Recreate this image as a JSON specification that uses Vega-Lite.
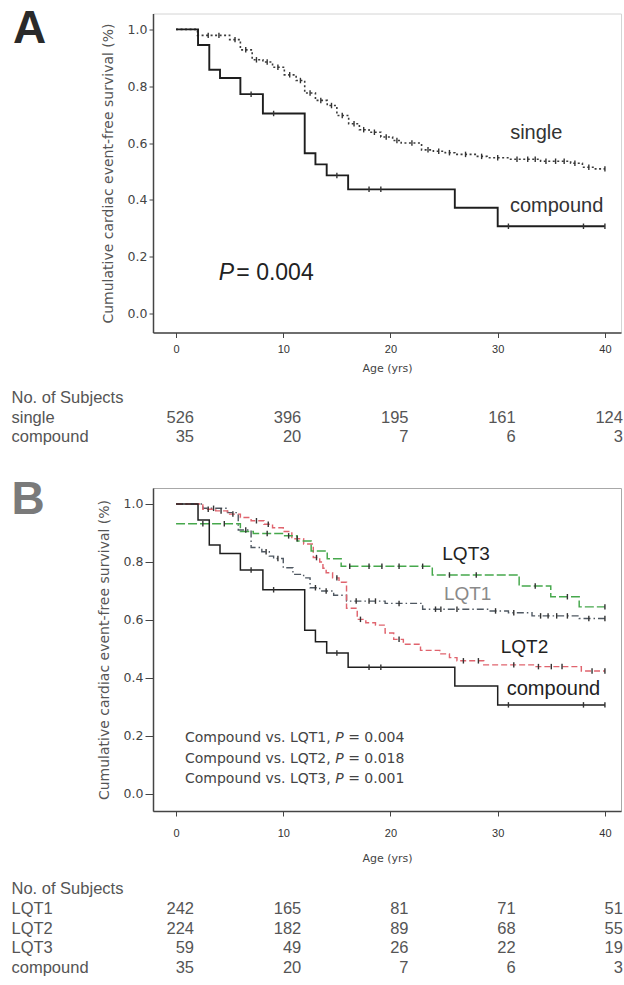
{
  "$schema": "https://vega.github.io/schema/vega-lite/v6.json",
  "padding": {"left": 10, "top": 5.5, "right": 0, "bottom": 0},
  "autosize": {"type": "pad"},
  "bounds": "flush",
  "spacing": 28.75,
  "background": "white",
  "resolve": {"scale": {"color": "independent", "strokeDash": "independent", "strokeWidth": "independent"}},
  "config": {"view": {"stroke": null}, "axis": {"grid": false}, "font": "Liberation Sans"},
  "datasets": {
    "kmA": [
      {"group":"single","age":0,"surv":1.0},{"group":"single","age":2.0,"surv":0.979},{"group":"single","age":5.0,"surv":0.964},{"group":"single","age":6.0,"surv":0.928},{"group":"single","age":7.1,"surv":0.893},{"group":"single","age":8.1,"surv":0.885},{"group":"single","age":9.0,"surv":0.867},{"group":"single","age":10.1,"surv":0.84},{"group":"single","age":11.2,"surv":0.82},{"group":"single","age":12.0,"surv":0.776},{"group":"single","age":13.0,"surv":0.75},{"group":"single","age":14.1,"surv":0.732},{"group":"single","age":15.0,"surv":0.697},{"group":"single","age":16.1,"surv":0.668},{"group":"single","age":17.1,"surv":0.647},{"group":"single","age":18.0,"surv":0.638},{"group":"single","age":19.1,"surv":0.621},{"group":"single","age":20.2,"surv":0.609},{"group":"single","age":21.0,"surv":0.6},{"group":"single","age":22.9,"surv":0.576},{"group":"single","age":24.0,"surv":0.571},{"group":"single","age":25.1,"surv":0.566},{"group":"single","age":26.0,"surv":0.56},{"group":"single","age":28.0,"surv":0.553},{"group":"single","age":29.0,"surv":0.548},{"group":"single","age":31.2,"surv":0.543},{"group":"single","age":34.0,"surv":0.536},{"group":"single","age":36.8,"surv":0.529},{"group":"single","age":37.9,"surv":0.515},{"group":"single","age":39.0,"surv":0.509},{"group":"single","age":40.0,"surv":0.509},
      {"group":"compound","age":0,"surv":1.0},{"group":"compound","age":2.05,"surv":0.945},{"group":"compound","age":3.1,"surv":0.858},{"group":"compound","age":4.1,"surv":0.829},{"group":"compound","age":6.0,"surv":0.772},{"group":"compound","age":8.1,"surv":0.704},{"group":"compound","age":12.0,"surv":0.564},{"group":"compound","age":13.0,"surv":0.525},{"group":"compound","age":14.05,"surv":0.486},{"group":"compound","age":16.05,"surv":0.437},{"group":"compound","age":26.0,"surv":0.372},{"group":"compound","age":30.0,"surv":0.307},{"group":"compound","age":40.0,"surv":0.307}
    ],
    "censA": [
      {"group":"single","age":3.0,"surv":0.979},{"group":"single","age":4.0,"surv":0.979},{"group":"single","age":5.5,"surv":0.964},{"group":"single","age":6.5,"surv":0.928},{"group":"single","age":7.5,"surv":0.893},{"group":"single","age":8.5,"surv":0.885},{"group":"single","age":9.5,"surv":0.867},{"group":"single","age":10.6,"surv":0.84},{"group":"single","age":11.6,"surv":0.82},{"group":"single","age":12.5,"surv":0.776},{"group":"single","age":13.5,"surv":0.75},{"group":"single","age":14.5,"surv":0.732},{"group":"single","age":15.5,"surv":0.697},{"group":"single","age":16.6,"surv":0.668},{"group":"single","age":17.5,"surv":0.647},{"group":"single","age":18.5,"surv":0.638},{"group":"single","age":19.6,"surv":0.621},{"group":"single","age":20.6,"surv":0.609},{"group":"single","age":22.0,"surv":0.6},{"group":"single","age":23.5,"surv":0.576},{"group":"single","age":24.5,"surv":0.571},{"group":"single","age":25.5,"surv":0.566},{"group":"single","age":27.0,"surv":0.56},{"group":"single","age":28.5,"surv":0.553},{"group":"single","age":30.0,"surv":0.548},{"group":"single","age":31.8,"surv":0.543},{"group":"single","age":32.8,"surv":0.543},{"group":"single","age":33.5,"surv":0.543},{"group":"single","age":34.5,"surv":0.536},{"group":"single","age":35.4,"surv":0.536},{"group":"single","age":36.2,"surv":0.536},{"group":"single","age":37.2,"surv":0.529},{"group":"single","age":38.5,"surv":0.515},{"group":"single","age":40.0,"surv":0.509},
      {"group":"compound","age":7.0,"surv":0.772},{"group":"compound","age":9.1,"surv":0.704},{"group":"compound","age":15.0,"surv":0.486},{"group":"compound","age":18.0,"surv":0.437},{"group":"compound","age":19.1,"surv":0.437},{"group":"compound","age":31.0,"surv":0.307},{"group":"compound","age":38.0,"surv":0.307},{"group":"compound","age":40.0,"surv":0.307}
    ],
    "kmB": [
      {"group":"LQT1","age":0,"surv":1.0},{"group":"LQT1","age":2.5,"surv":0.985},{"group":"LQT1","age":4.8,"surv":0.97},{"group":"LQT1","age":5.8,"surv":0.91},{"group":"LQT1","age":7.0,"surv":0.85},{"group":"LQT1","age":8.0,"surv":0.835},{"group":"LQT1","age":8.7,"surv":0.82},{"group":"LQT1","age":9.1,"surv":0.812},{"group":"LQT1","age":10.0,"surv":0.78},{"group":"LQT1","age":10.9,"surv":0.757},{"group":"LQT1","age":11.9,"surv":0.745},{"group":"LQT1","age":12.5,"surv":0.711},{"group":"LQT1","age":13.4,"surv":0.7},{"group":"LQT1","age":14.7,"surv":0.685},{"group":"LQT1","age":15.9,"surv":0.665},{"group":"LQT1","age":19.5,"surv":0.657},{"group":"LQT1","age":23.0,"surv":0.637},{"group":"LQT1","age":29.3,"surv":0.631},{"group":"LQT1","age":31.0,"surv":0.625},{"group":"LQT1","age":33.2,"surv":0.614},{"group":"LQT1","age":37.6,"surv":0.605},{"group":"LQT1","age":40.0,"surv":0.605},
      {"group":"LQT2","age":0,"surv":1.0},{"group":"LQT2","age":2.5,"surv":0.982},{"group":"LQT2","age":3.7,"surv":0.976},{"group":"LQT2","age":4.8,"surv":0.965},{"group":"LQT2","age":6.0,"surv":0.953},{"group":"LQT2","age":7.0,"surv":0.942},{"group":"LQT2","age":8.2,"surv":0.93},{"group":"LQT2","age":9.0,"surv":0.918},{"group":"LQT2","age":10.0,"surv":0.905},{"group":"LQT2","age":10.8,"surv":0.88},{"group":"LQT2","age":11.9,"surv":0.862},{"group":"LQT2","age":12.8,"surv":0.815},{"group":"LQT2","age":13.4,"surv":0.8},{"group":"LQT2","age":13.7,"surv":0.778},{"group":"LQT2","age":14.0,"surv":0.763},{"group":"LQT2","age":14.6,"surv":0.745},{"group":"LQT2","age":15.2,"surv":0.73},{"group":"LQT2","age":15.9,"surv":0.64},{"group":"LQT2","age":16.9,"surv":0.602},{"group":"LQT2","age":17.7,"surv":0.59},{"group":"LQT2","age":18.6,"surv":0.582},{"group":"LQT2","age":19.5,"surv":0.555},{"group":"LQT2","age":20.3,"surv":0.533},{"group":"LQT2","age":21.2,"surv":0.516},{"group":"LQT2","age":22.8,"surv":0.495},{"group":"LQT2","age":24.6,"surv":0.483},{"group":"LQT2","age":25.5,"surv":0.47},{"group":"LQT2","age":26.2,"surv":0.459},{"group":"LQT2","age":28.7,"surv":0.445},{"group":"LQT2","age":33.4,"surv":0.439},{"group":"LQT2","age":37.8,"surv":0.424},{"group":"LQT2","age":40.0,"surv":0.424},
      {"group":"LQT3","age":0,"surv":0.932},{"group":"LQT3","age":6.0,"surv":0.905},{"group":"LQT3","age":7.2,"surv":0.898},{"group":"LQT3","age":10.0,"surv":0.89},{"group":"LQT3","age":11.3,"surv":0.872},{"group":"LQT3","age":12.6,"surv":0.838},{"group":"LQT3","age":14.1,"surv":0.811},{"group":"LQT3","age":15.4,"surv":0.785},{"group":"LQT3","age":23.9,"surv":0.755},{"group":"LQT3","age":32.0,"surv":0.717},{"group":"LQT3","age":34.95,"surv":0.68},{"group":"LQT3","age":37.6,"surv":0.645},{"group":"LQT3","age":40.0,"surv":0.645},
      {"group":"compound","age":0,"surv":1.0},{"group":"compound","age":2.05,"surv":0.945},{"group":"compound","age":3.1,"surv":0.858},{"group":"compound","age":4.1,"surv":0.829},{"group":"compound","age":6.0,"surv":0.772},{"group":"compound","age":8.1,"surv":0.704},{"group":"compound","age":12.0,"surv":0.564},{"group":"compound","age":13.0,"surv":0.525},{"group":"compound","age":14.05,"surv":0.486},{"group":"compound","age":16.05,"surv":0.437},{"group":"compound","age":26.0,"surv":0.372},{"group":"compound","age":30.0,"surv":0.307},{"group":"compound","age":40.0,"surv":0.307}
    ],
    "censB": [
      {"group":"LQT3","age":2.5,"surv":0.932},{"group":"LQT3","age":4.5,"surv":0.932},{"group":"LQT3","age":8.5,"surv":0.898},{"group":"LQT3","age":10.5,"surv":0.89},{"group":"LQT3","age":16.2,"surv":0.785},{"group":"LQT3","age":18.0,"surv":0.785},{"group":"LQT3","age":19.2,"surv":0.785},{"group":"LQT3","age":20.8,"surv":0.785},{"group":"LQT3","age":23.0,"surv":0.785},{"group":"LQT3","age":25.5,"surv":0.755},{"group":"LQT3","age":28.0,"surv":0.755},{"group":"LQT3","age":33.5,"surv":0.717},{"group":"LQT3","age":36.5,"surv":0.68},{"group":"LQT3","age":40.0,"surv":0.645},
      {"group":"LQT1","age":3.5,"surv":0.985},{"group":"LQT1","age":6.5,"surv":0.91},{"group":"LQT1","age":8.4,"surv":0.835},{"group":"LQT1","age":9.5,"surv":0.812},{"group":"LQT1","age":13.0,"surv":0.711},{"group":"LQT1","age":14.0,"surv":0.7},{"group":"LQT1","age":16.8,"surv":0.665},{"group":"LQT1","age":18.0,"surv":0.665},{"group":"LQT1","age":18.6,"surv":0.665},{"group":"LQT1","age":20.8,"surv":0.657},{"group":"LQT1","age":24.2,"surv":0.637},{"group":"LQT1","age":24.7,"surv":0.637},{"group":"LQT1","age":26.2,"surv":0.637},{"group":"LQT1","age":29.8,"surv":0.631},{"group":"LQT1","age":31.5,"surv":0.625},{"group":"LQT1","age":34.0,"surv":0.614},{"group":"LQT1","age":34.7,"surv":0.614},{"group":"LQT1","age":35.5,"surv":0.614},{"group":"LQT1","age":36.5,"surv":0.614},{"group":"LQT1","age":38.5,"surv":0.605},{"group":"LQT1","age":40.0,"surv":0.605},
      {"group":"LQT2","age":3.0,"surv":0.982},{"group":"LQT2","age":4.2,"surv":0.976},{"group":"LQT2","age":5.3,"surv":0.965},{"group":"LQT2","age":7.5,"surv":0.942},{"group":"LQT2","age":8.6,"surv":0.93},{"group":"LQT2","age":11.3,"surv":0.88},{"group":"LQT2","age":13.1,"surv":0.815},{"group":"LQT2","age":15.0,"surv":0.745},{"group":"LQT2","age":17.2,"surv":0.602},{"group":"LQT2","age":20.8,"surv":0.533},{"group":"LQT2","age":26.8,"surv":0.459},{"group":"LQT2","age":28.2,"surv":0.459},{"group":"LQT2","age":31.5,"surv":0.445},{"group":"LQT2","age":33.8,"surv":0.439},{"group":"LQT2","age":35.0,"surv":0.439},{"group":"LQT2","age":36.0,"surv":0.439},{"group":"LQT2","age":38.8,"surv":0.424},{"group":"LQT2","age":40.0,"surv":0.424},
      {"group":"compound","age":7.0,"surv":0.772},{"group":"compound","age":9.1,"surv":0.704},{"group":"compound","age":15.0,"surv":0.486},{"group":"compound","age":18.0,"surv":0.437},{"group":"compound","age":19.1,"surv":0.437},{"group":"compound","age":31.0,"surv":0.307},{"group":"compound","age":38.0,"surv":0.307},{"group":"compound","age":40.0,"surv":0.307}
    ],
    "riskA": [
      {"group":"single","age":0,"n":526},{"group":"single","age":10,"n":396},{"group":"single","age":20,"n":195},{"group":"single","age":30,"n":161},{"group":"single","age":40,"n":124},
      {"group":"compound","age":0,"n":35},{"group":"compound","age":10,"n":20},{"group":"compound","age":20,"n":7},{"group":"compound","age":30,"n":6},{"group":"compound","age":40,"n":3}
    ],
    "riskB": [
      {"group":"LQT1","age":0,"n":242},{"group":"LQT1","age":10,"n":165},{"group":"LQT1","age":20,"n":81},{"group":"LQT1","age":30,"n":71},{"group":"LQT1","age":40,"n":51},
      {"group":"LQT2","age":0,"n":224},{"group":"LQT2","age":10,"n":182},{"group":"LQT2","age":20,"n":89},{"group":"LQT2","age":30,"n":68},{"group":"LQT2","age":40,"n":55},
      {"group":"LQT3","age":0,"n":59},{"group":"LQT3","age":10,"n":49},{"group":"LQT3","age":20,"n":26},{"group":"LQT3","age":30,"n":22},{"group":"LQT3","age":40,"n":19},
      {"group":"compound","age":0,"n":35},{"group":"compound","age":10,"n":20},{"group":"compound","age":20,"n":7},{"group":"compound","age":30,"n":6},{"group":"compound","age":40,"n":3}
    ],
    "labelsA": [{"label":"single","age":33.6,"surv":0.637},{"label":"compound","age":35.5,"surv":0.377}],
    "labelsB": [{"label":"LQT3","age":27.05,"surv":0.828},{"label":"LQT1","age":27.2,"surv":0.691},{"label":"LQT2","age":32.5,"surv":0.507},{"label":"compound","age":35.2,"surv":0.361}],
    "pA": [{"part":"P","text":"P","age":3.99,"surv":0.144},{"part":"v","text":"= 0.004","age":5.62,"surv":0.144}],
    "pB": [
      {"part":"prefix","text":"Compound vs. LQT1,","age":0.835,"surv":0.193},{"part":"P","text":"P","age":14.84,"surv":0.193},{"part":"v","text":"= 0.004","age":16.05,"surv":0.193},
      {"part":"prefix","text":"Compound vs. LQT2,","age":0.835,"surv":0.121},{"part":"P","text":"P","age":14.84,"surv":0.121},{"part":"v","text":"= 0.018","age":16.05,"surv":0.121},
      {"part":"prefix","text":"Compound vs. LQT3,","age":0.835,"surv":0.052},{"part":"P","text":"P","age":14.84,"surv":0.052},{"part":"v","text":"= 0.001","age":16.05,"surv":0.052}
    ],
    "panels": [{"panel":"A","age":-13.67,"surv":1.001},{"panel":"B","age":-13.8,"surv":1.015}]
  },
  "vconcat": [
    {
      "width": 468,
      "height": 319,
      "view": {"stroke": "#d4d4d4"},
      "encoding": {
        "x": {"field": "age", "type": "quantitative", "scale": {"domain": [-2.15, 41.5], "nice": false, "zero": false},
          "axis": {"values": [0, 10, 20, 30, 40], "title": "Age (yrs)", "tickSize": 5, "labelPadding": 6, "titlePadding": 8, "labelFontSize": 11, "titleFontSize": 11, "labelFont": "Liberation Sans", "titleFont": "DejaVu Sans", "titleFontWeight": "normal", "domainColor": "#444", "tickColor": "#444", "labelColor": "#333", "titleColor": "#444", "domainWidth": 1.5}},
        "y": {"field": "surv", "type": "quantitative", "scale": {"domain": [-0.067, 1.056], "nice": false, "zero": false},
          "axis": {"values": [0, 0.2, 0.4, 0.6, 0.8, 1.0], "format": ".1f", "title": "Cumulative cardiac event-free survival (%)", "tickSize": 4, "labelPadding": 2, "titlePadding": 12, "labelFontSize": 12.5, "titleFontSize": 14, "labelFont": "DejaVu Sans", "titleFont": "DejaVu Sans", "titleFontWeight": "normal", "domainColor": "#444", "tickColor": "#444", "labelColor": "#444", "titleColor": "#555", "domainWidth": 1.5}}
      },
      "layer": [
        {"data": {"name": "kmA"}, "mark": {"type": "line", "interpolate": "step-after"},
          "encoding": {
            "color": {"field": "group", "type": "nominal", "scale": {"domain": ["single", "compound"], "range": ["#3a3a3a", "#1e1e1e"]}, "legend": null},
            "strokeDash": {"field": "group", "type": "nominal", "scale": {"domain": ["single", "compound"], "range": [[2, 2.5], [1, 0]]}, "legend": null},
            "strokeWidth": {"field": "group", "type": "nominal", "scale": {"domain": ["single", "compound"], "range": [1.6, 1.9]}, "legend": null}
          }},
        {"data": {"name": "censA"}, "mark": {"type": "point", "shape": "M0,-1L0,1", "size": 30, "filled": false, "strokeWidth": 1.4, "color": "#333", "opacity": 1}},
        {"data": {"name": "labelsA"}, "mark": {"type": "text", "fontSize": 20, "font": "Liberation Sans", "color": "#333"},
          "encoding": {"text": {"field": "label"}}},
        {"data": {"name": "pA"}, "transform": [{"filter": "datum.part === 'P'"}], "mark": {"type": "text", "align": "left", "fontSize": 23, "fontStyle": "italic", "font": "Liberation Sans", "color": "#222"},
          "encoding": {"text": {"field": "text"}}},
        {"data": {"name": "pA"}, "transform": [{"filter": "datum.part === 'v'"}], "mark": {"type": "text", "align": "left", "fontSize": 23, "font": "Liberation Sans", "color": "#222"},
          "encoding": {"text": {"field": "text"}}},
        {"data": {"name": "panels"}, "transform": [{"filter": "datum.panel === 'A'"}], "mark": {"type": "text", "fontSize": 46, "fontWeight": "bold", "font": "Liberation Sans", "color": "#2a2a2a"},
          "encoding": {"text": {"field": "panel"}}}
      ]
    },
    {
      "width": 468,
      "height": 97.5,
      "data": {"name": "riskA"},
      "mark": {"type": "text", "align": "right", "dx": 18, "fontSize": 16.5, "font": "Liberation Sans", "color": "#555"},
      "encoding": {
        "x": {"field": "age", "type": "quantitative", "scale": {"domain": [-2.15, 41.5], "nice": false, "zero": false}, "axis": null},
        "y": {"field": "group", "type": "nominal", "scale": {"type": "band", "domain": ["No. of Subjects", "single", "compound"], "paddingInner": 0, "paddingOuter": 1, "align": 0.705},
          "axis": {"title": null, "domain": false, "ticks": false, "labelAlign": "left", "labelPadding": 142, "labelFontSize": 16.5, "labelFont": "Liberation Sans", "labelColor": "#555"}},
        "text": {"field": "n", "type": "nominal"}
      }
    },
    {
      "width": 468,
      "height": 323,
      "view": {"stroke": "#a8a8a8"},
      "encoding": {
        "x": {"field": "age", "type": "quantitative", "scale": {"domain": [-2.15, 41.5], "nice": false, "zero": false},
          "axis": {"values": [0, 10, 20, 30, 40], "title": "Age (yrs)", "tickSize": 5, "labelPadding": 11, "titlePadding": 14, "labelFontSize": 11, "titleFontSize": 11, "labelFont": "Liberation Sans", "titleFont": "DejaVu Sans", "titleFontWeight": "normal", "domainColor": "#444", "tickColor": "#444", "labelColor": "#333", "titleColor": "#444", "domainWidth": 1.5}},
        "y": {"field": "surv", "type": "quantitative", "scale": {"domain": [-0.059, 1.055], "nice": false, "zero": false},
          "axis": {"values": [0, 0.2, 0.4, 0.6, 0.8, 1.0], "format": ".1f", "title": "Cumulative cardiac event-free survival (%)", "tickSize": 8, "labelPadding": 2, "titlePadding": 12, "labelFontSize": 12.5, "titleFontSize": 14, "labelFont": "DejaVu Sans", "titleFont": "DejaVu Sans", "titleFontWeight": "normal", "domainColor": "#444", "tickColor": "#444", "labelColor": "#444", "titleColor": "#555", "domainWidth": 1.5}}
      },
      "layer": [
        {"data": {"name": "kmB"}, "mark": {"type": "line", "interpolate": "step-after"},
          "encoding": {
            "color": {"field": "group", "type": "nominal", "scale": {"domain": ["LQT1", "LQT2", "LQT3", "compound"], "range": ["#4f5862", "#e0646e", "#46a84c", "#1e1e1e"]}, "legend": null},
            "strokeDash": {"field": "group", "type": "nominal", "scale": {"domain": ["LQT1", "LQT2", "LQT3", "compound"], "range": [[7, 3, 1.5, 3], [6, 3], [9, 3], [1, 0]]}, "legend": null},
            "strokeWidth": {"field": "group", "type": "nominal", "scale": {"domain": ["LQT1", "LQT2", "LQT3", "compound"], "range": [1.4, 1.5, 1.5, 1.9]}, "legend": null}
          }},
        {"data": {"name": "censB"}, "mark": {"type": "point", "shape": "M0,-1L0,1", "size": 30, "filled": false, "strokeWidth": 1.4, "color": "#333", "opacity": 1}},
        {"data": {"name": "labelsB"}, "mark": {"type": "text", "font": "Liberation Sans"},
          "encoding": {
            "text": {"field": "label"},
            "color": {"condition": {"test": "datum.label === 'LQT1'", "value": "#8a8a8a"}, "value": "#222"},
            "size": {"condition": {"test": "datum.label === 'compound'", "value": 20}, "value": 19}
          }},
        {"data": {"name": "pB"}, "transform": [{"filter": "datum.part !== 'P'"}], "mark": {"type": "text", "align": "left", "fontSize": 14, "font": "DejaVu Sans", "color": "#444"},
          "encoding": {"text": {"field": "text"}}},
        {"data": {"name": "pB"}, "transform": [{"filter": "datum.part === 'P'"}], "mark": {"type": "text", "align": "left", "fontSize": 14, "fontStyle": "italic", "font": "DejaVu Sans", "color": "#444"},
          "encoding": {"text": {"field": "text"}}},
        {"data": {"name": "panels"}, "transform": [{"filter": "datum.panel === 'B'"}], "mark": {"type": "text", "fontSize": 46, "fontWeight": "bold", "font": "Liberation Sans", "color": "#7a7a7a"},
          "encoding": {"text": {"field": "panel"}}}
      ]
    },
    {
      "width": 468,
      "height": 138.25,
      "data": {"name": "riskB"},
      "mark": {"type": "text", "align": "right", "dx": 18, "fontSize": 16.5, "font": "Liberation Sans", "color": "#555"},
      "encoding": {
        "x": {"field": "age", "type": "quantitative", "scale": {"domain": [-2.15, 41.5], "nice": false, "zero": false}, "axis": null},
        "y": {"field": "group", "type": "nominal", "scale": {"type": "band", "domain": ["No. of Subjects", "LQT1", "LQT2", "LQT3", "compound"], "paddingInner": 0, "paddingOuter": 1, "align": 0.997},
          "axis": {"title": null, "domain": false, "ticks": false, "labelAlign": "left", "labelPadding": 142, "labelFontSize": 16.5, "labelFont": "Liberation Sans", "labelColor": "#555"}},
        "text": {"field": "n", "type": "nominal"}
      }
    }
  ]
}
